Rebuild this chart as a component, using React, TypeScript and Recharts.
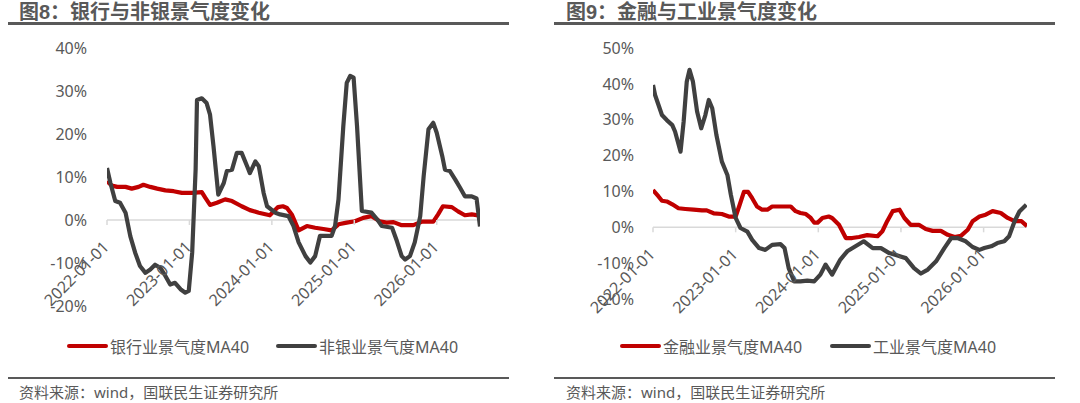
import React from 'react';
import { LineChart, Line, XAxis, YAxis, ReferenceLine, Legend } from 'recharts';

// ---- data (month offset from 2022-01-01, value in %) ----
const xTicks = [0, 12, 24, 36, 48];
const xTickLabels = ['2022-01-01', '2023-01-01', '2024-01-01', '2025-01-01', '2026-01-01'];

const leftYTicks = [-20, -10, 0, 10, 20, 30, 40];
const rightYTicks = [-20, -10, 0, 10, 20, 30, 40, 50];

const bankPts: [number, number][] = [
  [0, 9.0], [0.7, 8.0], [1.5, 7.7], [2.7, 7.7], [3.6, 7.3], [4.6, 7.7], [5.3, 8.2], [6.3, 7.7], [7.3, 7.3],
  [8.5, 6.9], [9.7, 6.7], [10.9, 6.3], [12.4, 6.3], [13.8, 6.5], [14.3, 5.2], [15.0, 3.5], [16.0, 4.0],
  [17.2, 4.8], [18.2, 4.4], [19.6, 3.2], [20.8, 2.3], [22.1, 1.7], [23.7, 1.1], [24.9, 3.0], [25.6, 3.2],
  [26.2, 2.8], [26.9, 1.3], [27.9, -2.4], [29.1, -1.4], [30.3, -1.8], [31.5, -2.1], [32.7, -2.4],
  [33.7, -1.0], [34.9, -0.6], [36.1, -0.3], [37.3, 0.5], [38.5, 0.9], [39.7, -0.3], [40.7, -0.6],
  [41.7, -0.5], [42.9, -1.2], [44.6, -1.2], [45.8, -0.4], [47.5, -0.4], [48.2, 1.3], [48.9, 3.2],
  [50.2, 3.0], [51.1, 2.0], [52.1, 1.1], [53.1, 1.3], [54.3, 1.0],
];

const nonBankPts: [number, number][] = [
  [0, 12.1], [0.5, 8.6], [1.2, 4.4], [1.9, 4.0], [2.7, 1.7], [3.4, -3.8], [4.1, -7.6], [4.8, -10.7],
  [5.6, -12.3], [6.3, -11.5], [7.0, -10.4], [7.75, -11.1], [8.5, -13.0], [9.2, -15.0], [9.9, -14.6],
  [10.7, -16.1], [11.4, -16.9], [11.9, -16.5], [12.4, -7.6], [12.9, 11.7], [13.1, 27.9], [13.8, 28.3],
  [14.5, 27.2], [15.0, 24.5], [15.5, 17.2], [16.2, 5.9], [17.0, 8.6], [17.45, 11.4], [18.2, 11.7],
  [18.9, 15.6], [19.6, 15.6], [20.4, 12.5], [20.8, 10.9], [21.6, 13.6], [22.1, 12.5], [22.8, 6.3],
  [23.3, 3.2], [24.5, 1.7], [25.2, 1.3], [26.4, 0.9], [27.15, -1.4], [27.9, -5.2], [28.9, -8.4],
  [29.6, -9.9], [30.3, -8.4], [31.0, -3.7], [32.7, -3.7], [33.2, -1.4], [33.7, 4.8], [34.4, 21.8],
  [34.9, 31.9], [35.4, 33.5], [35.9, 33.1], [36.4, 21.8], [37.1, 2.1], [38.5, 1.7], [39.3, 0.2],
  [40.0, -1.4], [41.5, -1.8], [42.2, -4.9], [42.9, -8.4], [43.4, -9.2], [44.1, -8.4], [44.8, -5.2],
  [45.6, 0.9], [46.1, 10.2], [46.8, 21.1], [47.5, 22.6], [48.0, 20.3], [48.8, 14.9], [49.2, 11.7],
  [49.9, 11.4], [50.7, 9.4], [51.4, 7.5], [52.1, 5.5], [53.1, 5.5], [53.8, 5.0], [54.3, -1.5],
];

const financePts: [number, number][] = [
  [0, 10.4], [0.8, 8.6], [1.3, 7.4], [2.0, 7.2], [2.8, 6.4], [3.7, 5.3], [4.7, 5.1], [5.9, 4.9], [7.1, 4.7],
  [7.8, 4.7], [8.8, 3.9], [10.0, 3.7], [11.0, 3.0], [12.0, 3.0], [12.5, 5.8], [13.2, 9.9], [13.8, 9.9],
  [14.4, 8.1], [15.1, 5.8], [15.85, 4.9], [16.6, 4.9], [17.3, 5.8], [18.5, 5.8], [20.0, 5.8], [20.7, 4.5],
  [21.4, 4.0], [22.2, 3.7], [22.9, 2.6], [23.4, 1.3], [23.9, 1.3], [24.6, 2.6], [25.5, 3.0], [26.0, 2.6],
  [27.0, 0.7], [28.0, -3.0], [28.9, -3.0], [29.9, -2.7], [31.1, -2.2], [32.6, -2.5], [33.3, -1.1],
  [34.0, 1.7], [34.8, 4.5], [35.8, 4.9], [36.5, 2.6], [37.4, 0.7], [38.6, 0.7], [39.6, -0.5], [40.6, -1.0],
  [41.8, -1.0], [42.8, -2.1], [43.8, -2.7], [44.7, -2.4], [45.7, -0.7], [46.4, 1.7], [47.4, 3.0],
  [48.3, 3.5], [49.3, 4.5], [50.5, 4.0], [51.5, 2.6], [52.5, 1.7], [53.5, 1.7], [54.3, 0.3],
];

const industryPts: [number, number][] = [
  [0, 39.7], [0.3, 36.9], [0.8, 34.1], [1.3, 31.3], [2.0, 29.9], [2.8, 28.5], [3.2, 26.7], [4.0, 21.1],
  [4.45, 29.5], [4.9, 40.6], [5.3, 43.9], [5.8, 40.6], [6.4, 32.3], [7.0, 27.6], [7.6, 31.3], [8.1, 35.5],
  [8.6, 33.2], [9.2, 25.8], [10.0, 18.3], [10.8, 14.6], [11.3, 9.1], [12.0, 2.6], [12.7, -0.2],
  [13.7, -1.2], [14.4, -3.5], [15.4, -5.8], [16.3, -6.3], [17.3, -4.9], [18.5, -4.7], [19.1, -5.8],
  [19.7, -11.4], [20.5, -15.1], [21.4, -15.1], [22.4, -14.9], [23.4, -15.1], [24.3, -13.2],
  [25.06, -10.4], [26.0, -13.2], [27.2, -9.0], [28.2, -6.7], [29.4, -5.3], [30.6, -3.9], [31.9, -5.8],
  [33.1, -5.8], [34.3, -7.2], [35.5, -7.9], [36.7, -8.6], [37.9, -11.4], [38.9, -12.9], [39.9, -11.8],
  [41.1, -9.5], [42.3, -5.8], [43.3, -3.0], [44.2, -3.0], [45.4, -3.9], [46.4, -5.5], [47.4, -6.3],
  [48.1, -5.8], [49.1, -5.3], [50.0, -4.4], [51.0, -3.9], [51.7, -2.5], [52.5, 1.7], [53.2, 4.4],
  [54.2, 6.3],
];

const toRows = (pts: [number, number][]) => pts.map(([m, v]) => ({ m, v }));

const RED = '#C00000';
const DARK = '#404040';
const GRAY_TEXT = '#595959';
const AXIS = '#D9D9D9';
const FONT = '"Noto Sans", "Noto Sans CJK SC", sans-serif';
const TITLE_FONT = '"Liberation Sans", "Noto Sans CJK SC", sans-serif';

const makeXTick = (zeroY: number) => (props: any) => {
  const { x, payload } = props;
  const idx = xTicks.indexOf(payload.value);
  const label = idx >= 0 ? xTickLabels[idx] : '';
  return (
    <g transform={`translate(${x},${zeroY})`}>
      <line x1={0} y1={0} x2={0} y2={5} stroke={AXIS} strokeWidth={1.5} />
      <text x={0} y={0} transform="translate(3,28) rotate(-45)" textAnchor="end" fill={GRAY_TEXT} fontSize={16}>
        {label}
      </text>
    </g>
  );
};

const makeLegend = (order: string[], positions: number[]) => (props: any) => {
  const payload: any[] = props.payload || [];
  return (
    <div style={{ position: 'relative', height: 24, width: 540 }}>
      {order.map((name, i) => {
        const p = payload.find((e) => e.value === name);
        if (!p) return null;
        return (
          <div
            key={name}
            style={{ position: 'absolute', left: positions[i], top: 0, height: 24, display: 'flex', alignItems: 'center' }}
          >
            <span style={{ display: 'inline-block', width: 41, height: 4.5, background: p.color, borderRadius: 2.25, marginRight: 2 }} />
            <span style={{ fontSize: 16, color: GRAY_TEXT, whiteSpace: 'nowrap' }}>{p.value}</span>
          </div>
        );
      })}
    </div>
  );
};

type PanelProps = {
  left: number;
  title: string;
  titleX: number;
  lineX: number;
  margin: { top: number; right: number; bottom: number; left: number };
  yTicks: number[];
  yDomain: [number, number];
  tickMargin: number;
  series: { name: string; color: string; pts: [number, number][] }[];
  legendPos: number[];
};

const Panel = (p: PanelProps) => {
  const plotH = 403 - p.margin.top - p.margin.bottom - 1;
  const zeroY = p.margin.top + (plotH * p.yDomain[1]) / (p.yDomain[1] - p.yDomain[0]);
  return (
    <div style={{ position: 'absolute', left: p.left, top: 0, width: 540, height: 403 }}>
      <LineChart width={540} height={403} margin={p.margin} style={{ position: 'absolute', left: 0, top: 0 }}>
        <XAxis
          type="number"
          dataKey="m"
          domain={[0, 54.3]}
          ticks={xTicks}
          allowDataOverflow
          axisLine={false}
          tickLine={false}
          height={1}
          tick={makeXTick(zeroY)}
          interval={0}
        />
        <YAxis
          type="number"
          domain={p.yDomain}
          ticks={p.yTicks}
          width={100}
          axisLine={false}
          tickLine={false}
          tickSize={0}
          tickMargin={p.tickMargin}
          tick={{ fill: GRAY_TEXT, fontSize: 16 }}
          tickFormatter={(v: number) => `${v}%`}
          interval={0}
        />
        <ReferenceLine y={0} stroke={AXIS} strokeWidth={1.5} />
        {p.series.map((s) => (
          <Line
            key={s.name}
            data={toRows(s.pts)}
            dataKey="v"
            name={s.name}
            type="linear"
            stroke={s.color}
            strokeWidth={4.2}
            dot={false}
            activeDot={false}
            strokeLinejoin="round"
            isAnimationActive={false}
          />
        ))}
        <Legend
          layout="horizontal"
          verticalAlign="middle"
          align="center"
          content={makeLegend(p.series.map((s) => s.name), p.legendPos)}
          wrapperStyle={{ top: 334, left: 0, width: 540, height: 24 }}
        />
      </LineChart>
      <div
        style={{
          position: 'absolute', left: p.titleX, top: 2, lineHeight: '20px', fontSize: 20, fontWeight: 700,
          color: GRAY_TEXT, whiteSpace: 'nowrap', fontFamily: TITLE_FONT,
        }}
      >
        {p.title}
      </div>
      <div style={{ position: 'absolute', left: p.lineX, top: 22, width: 501, height: 2.5, background: GRAY_TEXT }} />
      <div style={{ position: 'absolute', left: p.lineX, top: 376.5, width: 501, height: 2, background: GRAY_TEXT }} />
      <div
        style={{
          position: 'absolute', left: p.titleX, top: 382, lineHeight: '20px', fontSize: 15, color: GRAY_TEXT,
          whiteSpace: 'nowrap',
        }}
      >
        资料来源：wind，国联民生证券研究所
      </div>
    </div>
  );
};

export default function App() {
  return (
    <div
      style={{
        position: 'absolute', left: 0, top: 0, width: 1080, height: 403, background: '#fff', fontFamily: FONT,
        overflow: 'hidden',
      }}
    >
      <Panel
        left={0}
        title="图8：银行与非银景气度变化"
        titleX={19}
        lineX={8}
        margin={{ top: 48, right: 60, bottom: 96, left: 7 }}
        yTicks={leftYTicks}
        yDomain={[-20, 40]}
        tickMargin={20}
        series={[
          { name: '银行业景气度MA40', color: RED, pts: bankPts },
          { name: '非银业景气度MA40', color: DARK, pts: nonBankPts },
        ]}
        legendPos={[67, 276]}
      />
      <Panel
        left={540}
        title="图9：金融与工业景气度变化"
        titleX={26}
        lineX={14}
        margin={{ top: 48, right: 53, bottom: 103, left: 13 }}
        yTicks={rightYTicks}
        yDomain={[-20, 50]}
        tickMargin={19}
        series={[
          { name: '金融业景气度MA40', color: RED, pts: financePts },
          { name: '工业景气度MA40', color: DARK, pts: industryPts },
        ]}
        legendPos={[80, 290]}
      />
    </div>
  );
}
